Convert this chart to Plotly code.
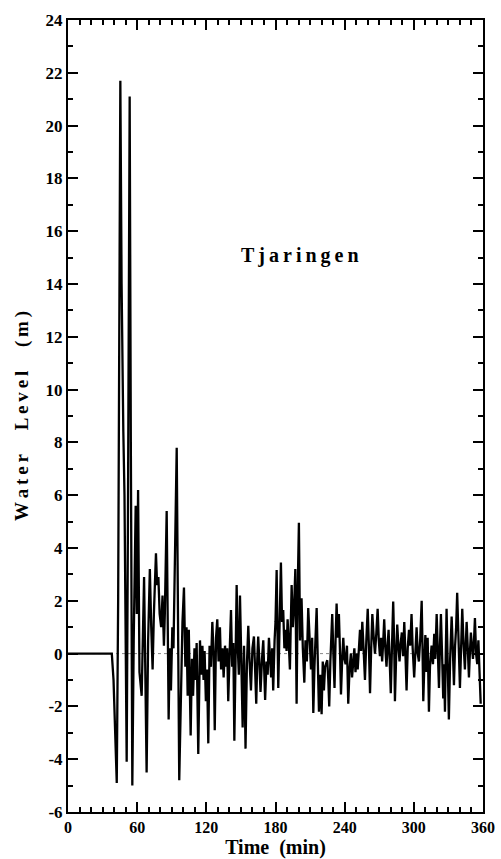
import plotly.graph_objects as go

# ---- data ----
time_min = [
    0, 38, 39.5, 41, 42.3, 43.5, 45.4, 46.5, 47.3, 48, 49, 50.9, 52, 53.5, 54.5, 55.8,
    57, 58.7, 59.7, 60.8, 62, 63.9, 66, 68.2, 69.5, 71, 72.2, 73.4, 74.5, 76.3,
    77.3, 78.4, 79.5, 80.8, 82, 83.2, 84, 85.6, 87.3, 88.3, 89.3, 90.5, 91.5,
    92.5, 94.3, 96.5, 98, 99.3, 100.6, 101.8, 102.8, 103.8, 104.8, 106.4, 107.5,
    108.5, 109.7, 110.7, 111.6, 113, 114.5, 115.5, 116.6, 117.6, 118.5, 119.6,
    120.6, 121.7, 122.8, 124, 125.2, 126.3, 127.3, 128.4, 129.5, 130.6, 131.8,
    132.8, 134, 135, 136.2, 137.2, 138.1, 139, 140.2, 141.4, 142.4, 143.4, 144.3,
    145.3, 146.3, 147.3, 148.2, 149.2, 150.3, 151.5, 152.7, 154, 155.2, 156.4,
    157.5, 158.7, 160, 161.3, 162.3, 163.3, 164.2, 165, 166, 167, 168.3, 169.4,
    170.2, 171, 172.2, 173.2, 174.3, 175.3, 176.2, 177.1, 178, 179.2, 180, 181,
    182.4, 183.5, 184.7, 185.7, 186.7, 187.7, 188.7, 189.6, 190.5, 191.5, 192.5,
    193.3, 194, 195, 196.3, 197.2, 198.3, 199.3, 200.3, 201.3, 202.6, 203.7, 205,
    206, 207.2, 208.4, 209.6, 210.8, 211.8, 212.8, 213.8, 214.8, 215.7, 216.7,
    217.7, 218.8, 220, 221, 222, 223, 224.9, 225.8, 226.6, 227.6, 228.4, 229.2,
    230.2, 231.2, 232.1, 233, 234, 235, 236, 236.8, 237.8, 238.8, 239.8, 240.8,
    242, 243.1, 244.2, 245.4, 246.4, 247.4, 248.4, 249.4, 250.4, 251.3, 252.3,
    253.3, 254.3, 255.3, 256.4, 257.6, 258.8, 260, 261, 262, 263, 264, 265.2,
    266.3, 267.5, 268.6, 269.6, 270.6, 271.6, 272.5, 273.4, 274.3, 275.3, 276.3,
    277.2, 278.1, 279, 280, 281, 282.1, 283, 283.6, 284.6, 285.6, 286.6, 287.6,
    288.6, 289.6, 290.7, 291.7, 292.7, 293.7, 294.7, 295.8, 296.9, 298, 299,
    300.3, 301.4, 302.4, 303.4, 304.4, 305.6, 306.8, 307.5, 308.2, 309.2, 310,
    311, 312, 313.1, 314, 315.4, 316.6, 317.7, 318.6, 319.8, 320.8, 321.8, 322.6,
    323.5, 324.6, 325.5, 326.2, 327, 327.7, 328.4, 329.4, 330.4, 331.5, 332.8,
    333.8, 334.8, 335.8, 336.7, 337.6, 338.7, 340, 341, 342, 343.1, 344.3, 345,
    345.8, 346.8, 347.8, 348.7, 349.5, 350.5, 351.3, 352.2, 353, 354, 355, 356,
    357, 358,
]
water_level_m = [
    0, 0, -1.0, -3.5, -4.9, 2, 21.7, 14, 9.8, 8.4, 6, -4.1, 5, 21.1, 8, -5.0,
    0.5, 5.6, 1.5, 6.2, -0.7, -1.6, 2.9, -4.5, 0.5, 3.2, 1.0, -0.6, 1.5, 3.8,
    2.6, 2.9, 1.5, 1.0, 2.2, 0.3, 1.5, 5.4, -2.5, 0.2, -1.4, 1.0, 0.2,
    3.0, 7.8, -4.8, -0.8, 1.2, 2.5, -0.5, 1.0, -1.6, 0.9, -3.1, -0.2,
    -1.6, 0.2, -1.0, 0.4, -3.8, 0.5, -0.8, 0.3, -1.0, 0.1, -1.8,
    -0.6, -3.4, 0.3, -0.5, 1.2, 0.0, -2.9, 0.6, 1.3, -0.3, 1.0,
    -0.6, 0.2, -0.9, 0.3, -0.5, 0.2, -1.8, 0.0, 1.65, -0.5, 0.4, -3.3,
    0.4, 2.6, 0.2, -0.8, 2.2, 0.0, -2.8, 0.3, -3.6, -0.4, 1.05,
    -0.3, -1.4, 0.2, 0.65, -0.6, -1.9, -0.2, 0.65, -0.3, -1.45, -0.2, 0.5,
    -0.6, -1.76, -0.3, -0.8, 0.6, -0.2, -0.9, 0.2, -1.4, 0.5, 1.2, 3.17,
    -1.3, 1.0, 3.45, 1.2, 1.65, 0.2, 0.9, 0.1, 1.3, 0.4, -0.6,
    1.2, 2.6, 1.0, 2.0, 3.2, -1.9, 2.5, 4.96, 0.5, 2.1, 0.2, -1.1,
    0.5, -0.3, 1.73, 0.3, -0.6, 0.6, -2.25, -0.5, 0.6, 1.73, -0.3,
    -2.2, -0.8, -2.3, -0.3, -1.4, -0.5, -0.25, -1.0, -2.0, -0.3, 0.4, 1.5,
    0.0, -1.3, 0.5, 1.9, 0.6, 1.5, 0.0, -1.55, -0.3, 0.6, -0.2, -0.4,
    0.3, -1.9, -0.6, 0.0, -0.9, -0.4, 0.2, -0.7, 0.0, -0.6, 0.4,
    0.9, 0.1, 1.2, 0.2, -1.0, 0.5, 1.7, 0.3, -1.5, 0.2, 1.5, 0.6,
    0.0, 0.8, 1.7, 0.5, -0.1, 0.6, -0.3, 0.4, 1.3, 0.2, -0.5,
    0.3, 0.9, -0.2, -1.5, 0.2, 1.97, 0.3, -1.8, -0.2, 1.1, 0.3, -0.3,
    0.4, 0.8, -0.1, 1.2, 0.0, -1.4, 0.2, 0.9, 0.3, 1.5, 0.2,
    -0.9, 0.1, 1.0, 0.0, -0.3, 0.6, 2.0, 0.3, -1.8, -0.3, 0.7,
    -0.7, 0.6, -2.2, -0.5, 0.3, -0.4, 0.75, -0.2, 1.5, 0.0, -1.3, 0.2,
    1.5, -0.2, -1.7, -0.4, -2.2, 0.0, 1.7, -0.4, -2.5, -0.2, 1.4,
    0.2, -1.2, 0.3, 1.0, 2.3, 0.3, -1.3, 0.2, 1.7, 0.4, -0.6, 0.3,
    1.2, 0.2, -0.9, 0.1, 0.8, 0.2, -0.2, 0.5, 1.35, 0.0, -0.4, 0.5,
    -0.5, -1.9,
]

x_ticks = [0, 60, 120, 180, 240, 300, 360]
y_ticks = [-6, -4, -2, 0, 2, 4, 6, 8, 10, 12, 14, 16, 18, 20, 22, 24]
zero_ref_t = [0, 360]
zero_ref_v = [0, 0]

FONT = "Liberation Serif"

fig = go.Figure()
fig.add_trace(go.Scatter(x=zero_ref_t, y=zero_ref_v, mode="lines",
                         line=dict(color="#888888", width=1, dash="dot"),
                         hoverinfo="skip", showlegend=False))
fig.add_trace(go.Scatter(x=time_min, y=water_level_m, mode="lines",
                         line=dict(color="black", width=2.3),
                         showlegend=False))

axis_common = dict(showline=True, linecolor="black", linewidth=2, mirror="allticks",
                   ticks="inside", tickcolor="black", tickwidth=1.6, ticklen=10,
                   showgrid=False, zeroline=False, automargin=False)

fig.update_xaxes(range=[0, 360], tickvals=x_ticks, ticktext=[str(v) for v in x_ticks],
                 tickfont=dict(family=FONT, size=16, color="black", weight="bold"),
                 minor=dict(dtick=10, ticks="inside", ticklen=5, tickwidth=1.6,
                            tickcolor="black", showgrid=False),
                 title=dict(text="Time\u00a0 (min)", standoff=5,
                            font=dict(family=FONT, size=20, color="black", weight="bold")),
                 **axis_common)
fig.update_yaxes(range=[-6, 24], tickvals=y_ticks, ticktext=[str(v) for v in y_ticks],
                 tickfont=dict(family=FONT, size=17, color="black", weight="bold"),
                 minor=dict(dtick=1, ticks="inside", ticklen=5, tickwidth=1.6,
                            tickcolor="black", showgrid=False),
                 title=dict(text="W\u2009a\u2009t\u2009e\u2009r\u2003 L\u2009e\u2009v\u2009e\u2009l\u2003 (\u2009m\u2009)",
                            standoff=12,
                            font=dict(family=FONT, size=19, color="black", weight="bold")),
                 **axis_common)

fig.add_annotation(x=0.56, y=0.72, xref="paper", yref="paper",
                   text="T\u2009j\u2009a\u2009r\u2009i\u2009n\u2009g\u2009e\u2009n",
                   showarrow=False, font=dict(family=FONT, size=20, color="black", weight="bold"))

fig.update_layout(width=501, height=859, margin=dict(l=68, r=18, t=20, b=47),
                  paper_bgcolor="white", plot_bgcolor="white")

fig.write_html("out.html")
